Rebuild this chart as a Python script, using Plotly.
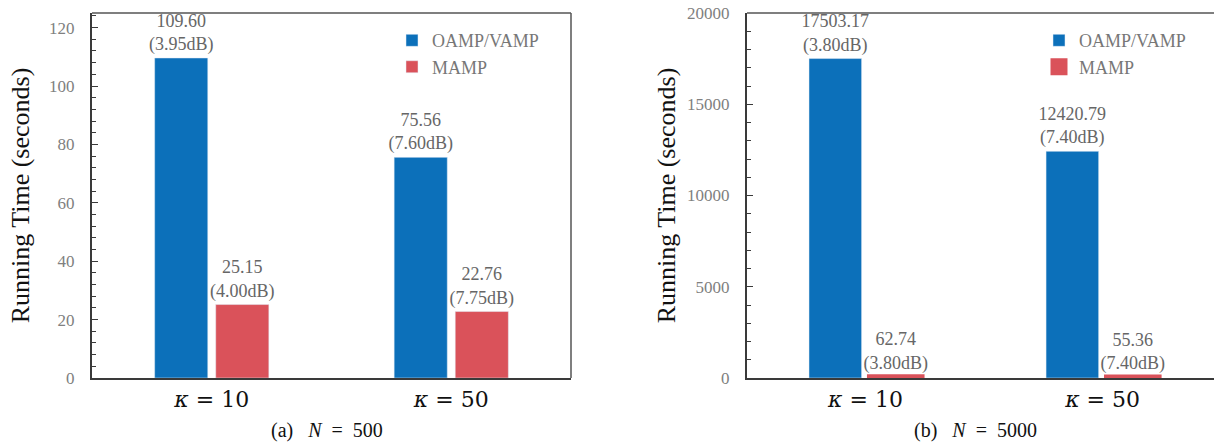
import plotly.graph_objects as go

# ---- data ----
categories = ["κ = 10", "κ = 50"]
tick_text = ["<i>κ</i> = 10", "<i>κ</i> = 50"]
series_names = ["OAMP/VAMP", "MAMP"]

# panel (a) N = 500
a_oamp = [109.60, 75.56]
a_mamp = [25.15, 22.76]
a_oamp_db = ["3.95dB", "7.60dB"]
a_mamp_db = ["4.00dB", "7.75dB"]

# panel (b) N = 5000
b_oamp = [17503.17, 12420.79]
b_mamp = [62.74, 55.36]
b_oamp_db = ["3.80dB", "7.40dB"]
b_mamp_db = ["3.80dB", "7.40dB"]

captions = ["(a)&nbsp;&nbsp;&nbsp;<i>N</i>&nbsp;&nbsp;=&nbsp;&nbsp;500",
            "(b)&nbsp;&nbsp;&nbsp;<i>N</i>&nbsp;&nbsp;=&nbsp;&nbsp;5000"]
y_title = "Running Time (seconds)"

BLUE = "#0c70ba"
RED = "#da525a"
SERIF = "Liberation Serif"
GRAY_TICK = "#808080"
GRAY_TXT = "#666666"

W, H = 1214, 442
ML, MR, MT, MB = 0, 0, 13, 64
PH = H - MT - MB


def lbl(vals, dbs):
    return [f"{v:.2f}<br>({d})" for v, d in zip(vals, dbs)]


fig = go.Figure()

common_text = dict(textposition="outside", cliponaxis=False, constraintext="none",
                   textfont=dict(family=SERIF, size=18, color=GRAY_TXT))

fig.add_trace(go.Bar(x=categories, y=a_oamp, name=series_names[0], marker_color=BLUE,
                     text=lbl(a_oamp, a_oamp_db), xaxis="x", yaxis="y", legend="legend",
                     **common_text))
fig.add_trace(go.Bar(x=categories, y=a_mamp, name=series_names[1], marker_color=RED,
                     text=lbl(a_mamp, a_mamp_db), xaxis="x", yaxis="y", legend="legend",
                     **common_text))
fig.add_trace(go.Bar(x=categories, y=b_oamp, name=series_names[0], marker_color=BLUE,
                     text=lbl(b_oamp, b_oamp_db), xaxis="x2", yaxis="y2", legend="legend2",
                     **common_text))
fig.add_trace(go.Bar(x=categories, y=b_mamp, name=series_names[1], marker_color=RED,
                     marker_line=dict(color=RED, width=5),
                     text=lbl(b_mamp, b_mamp_db), xaxis="x2", yaxis="y2", legend="legend2",
                     **common_text))

dom_a = [92 / W, 571 / W]
dom_b = [747 / W, 1.0]

xcommon = dict(type="category", categoryorder="array", categoryarray=categories,
               tickmode="array", tickvals=categories, ticktext=tick_text,
               showgrid=False, ticks="", showline=True, linecolor="#3a3a3a", linewidth=2,
               tickfont=dict(family="DejaVu Serif", size=22, color="#111111"),
               ticklabelstandoff=1, zeroline=False)
ycommon = dict(showgrid=False, zeroline=False, showline=True, linecolor="#3a3a3a", linewidth=2,
               ticks="inside", ticklen=6, tickwidth=1.3, tickcolor="#3a3a3a",
               tickfont=dict(family=SERIF, size=17, color=GRAY_TICK),
               ticklabelstandoff=12, tickformat="d")

fig.update_layout(
    width=W, height=H,
    margin=dict(l=ML, r=MR, t=MT, b=MB),
    plot_bgcolor="white", paper_bgcolor="white",
    barmode="group", bargap=0.49, bargroupgap=0.13,
    xaxis=dict(domain=dom_a, anchor="y", range=[-0.5, 1.5], **xcommon),
    xaxis2=dict(domain=dom_b, anchor="y2", range=[-0.5, 1.47], **xcommon),
    yaxis=dict(domain=[0, 1], anchor="x", range=[0, 125], dtick=20, tick0=0,
               minor=dict(dtick=4, tick0=0, ticks="inside", ticklen=4, tickcolor="#3a3a3a"),
               title=dict(text=y_title, font=dict(family=SERIF, size=26, color="#111111"),
                          standoff=12),
               **ycommon),
    yaxis2=dict(domain=[0, 1], anchor="x2", range=[0, 20000], dtick=5000, tick0=0,
                minor=dict(dtick=1000, tick0=0, ticks="inside", ticklen=4, tickcolor="#3a3a3a"),
                title=dict(text=y_title, font=dict(family=SERIF, size=26, color="#111111"),
                           standoff=4),
                **ycommon),
    legend=dict(x=392 / W, y=0.975, xanchor="left", yanchor="top",
                font=dict(family=SERIF, size=18, color="#777777"),
                bgcolor="rgba(0,0,0,0)", itemwidth=30, tracegroupgap=0),
    legend2=dict(x=1039 / W, y=0.975, xanchor="left", yanchor="top",
                 font=dict(family=SERIF, size=18, color="#777777"),
                 bgcolor="rgba(0,0,0,0)", itemwidth=30, tracegroupgap=0),
    showlegend=True,
)

# frame lines (top & right for panel a, top for panel b)
fig.add_shape(type="line", xref="x domain", yref="y domain", x0=0, x1=1, y0=1, y1=1,
              line=dict(color="#555555", width=1.5))
fig.add_shape(type="line", xref="x domain", yref="y domain", x0=1, x1=1, y0=0, y1=1,
              line=dict(color="#555555", width=1.5))
fig.add_shape(type="line", xref="x2 domain", yref="y2 domain", x0=0, x1=1, y0=1, y1=1,
              line=dict(color="#555555", width=1.5))

# sub-captions
for cx, txt in zip([327, 975], captions):
    fig.add_annotation(text=txt, xref="paper", yref="paper", x=cx / W, y=(378 - 430) / PH,
                       xanchor="center", yanchor="middle", showarrow=False,
                       font=dict(family=SERIF, size=20, color="#111111"))

fig.write_html("out.html")
